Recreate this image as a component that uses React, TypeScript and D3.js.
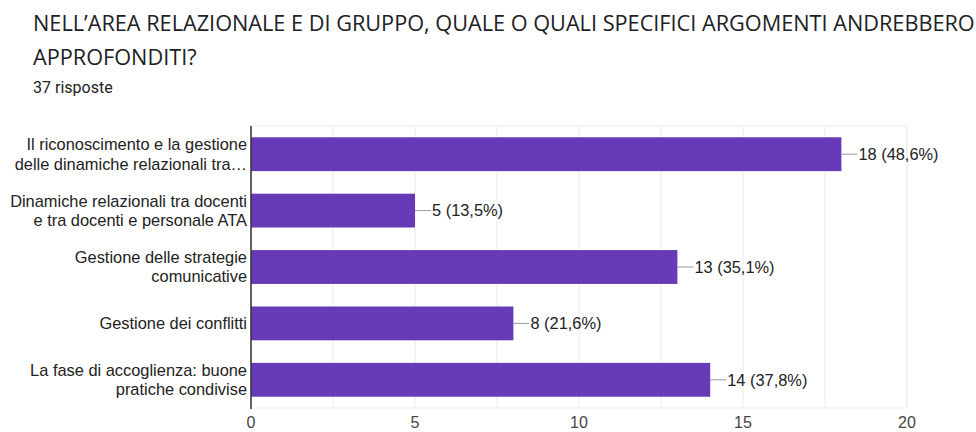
import React from "react";
import * as d3 from "d3";

const titleLines = [
  "NELL’AREA RELAZIONALE E DI GRUPPO, QUALE O QUALI SPECIFICI ARGOMENTI ANDREBBERO",
  "APPROFONDITI?",
];
const subtitle = "37 risposte";
const categories: string[][] = [
  ["Il riconoscimento e la gestione", "delle dinamiche relazionali tra…"],
  ["Dinamiche relazionali tra docenti", "e tra docenti e personale ATA"],
  ["Gestione delle strategie", "comunicative"],
  ["Gestione dei conflitti"],
  ["La fase di accoglienza: buone", "pratiche condivise"],
];
const counts = [18, 5, 13, 8, 14];
const percents = ["48,6%", "13,5%", "35,1%", "21,6%", "37,8%"];
const ticks = [0, 5, 10, 15, 20];
const gridTicks = [0, 2.5, 5, 7.5, 10, 12.5, 15, 17.5, 20];

const W = 976;
const H = 432;
const left = 251;
const right = 907;
const top = 126;
const bottom = 408;

export default function App() {
  const x = d3.scaleLinear().domain([0, 20]).range([left, right]);
  const y = d3
    .scaleBand<number>()
    .domain(d3.range(counts.length))
    .range([top, bottom])
    .paddingInner(0.4)
    .paddingOuter(0.2);
  const labelFont = "Arial, 'Liberation Sans', sans-serif";
  const fs = 16.4;
  return (
    <svg
      width={W}
      height={H}
      style={{ position: "absolute", left: 0, top: 0, background: "#fff" }}
    >
      {titleLines.map((t, i) => (
        <text
          key={i}
          x={33}
          y={31 + i * 34}
          fontFamily="'Open Sans', Roboto, sans-serif"
          fontSize={21.7}
          fill="#202124"
        >
          {t}
        </text>
      ))}
      <text x={33} y={93} fontFamily="Roboto, sans-serif" fontSize={16} fill="#202124">
        {subtitle}
      </text>
      <rect
        x={left}
        y={top}
        width={right - left}
        height={bottom - top}
        fill="none"
        stroke="#ebebeb"
        strokeWidth={1}
      />
      {gridTicks.map((t) => (
        <line
          key={t}
          x1={x(t)}
          x2={x(t)}
          y1={top}
          y2={bottom}
          stroke="#ebebeb"
          strokeWidth={1}
        />
      ))}
      {counts.map((c, i) => {
        const by = y(i)!;
        const bw = y.bandwidth();
        const cy = by + bw / 2;
        const lines = categories[i];
        return (
          <g key={i}>
            <rect x={x(0)} y={by} width={x(c) - x(0)} height={bw} fill="#673ab7" />
            <line x1={x(c)} x2={x(c) + 16} y1={cy} y2={cy} stroke="#999" strokeWidth={1} />
            <text
              x={x(c) + 17}
              y={cy}
              dy="0.35em"
              fontFamily={labelFont}
              fontSize={fs}
              fill="#222"
            >
              {`${c} (${percents[i]})`}
            </text>
            {lines.map((l, j) => (
              <text
                key={j}
                x={247}
                y={cy + (j - (lines.length - 1) / 2) * 19.5}
                dy="0.35em"
                textAnchor="end"
                fontFamily={labelFont}
                fontSize={fs}
                fill="#222"
              >
                {l}
              </text>
            ))}
          </g>
        );
      })}
      <line x1={left} x2={left} y1={top} y2={bottom + 1} stroke="#333" strokeWidth={1.5} />
      {ticks.map((t) => (
        <text
          key={t}
          x={x(t)}
          y={428}
          textAnchor="middle"
          fontFamily={labelFont}
          fontSize={16}
          fill="#444"
        >
          {t}
        </text>
      ))}
    </svg>
  );
}
